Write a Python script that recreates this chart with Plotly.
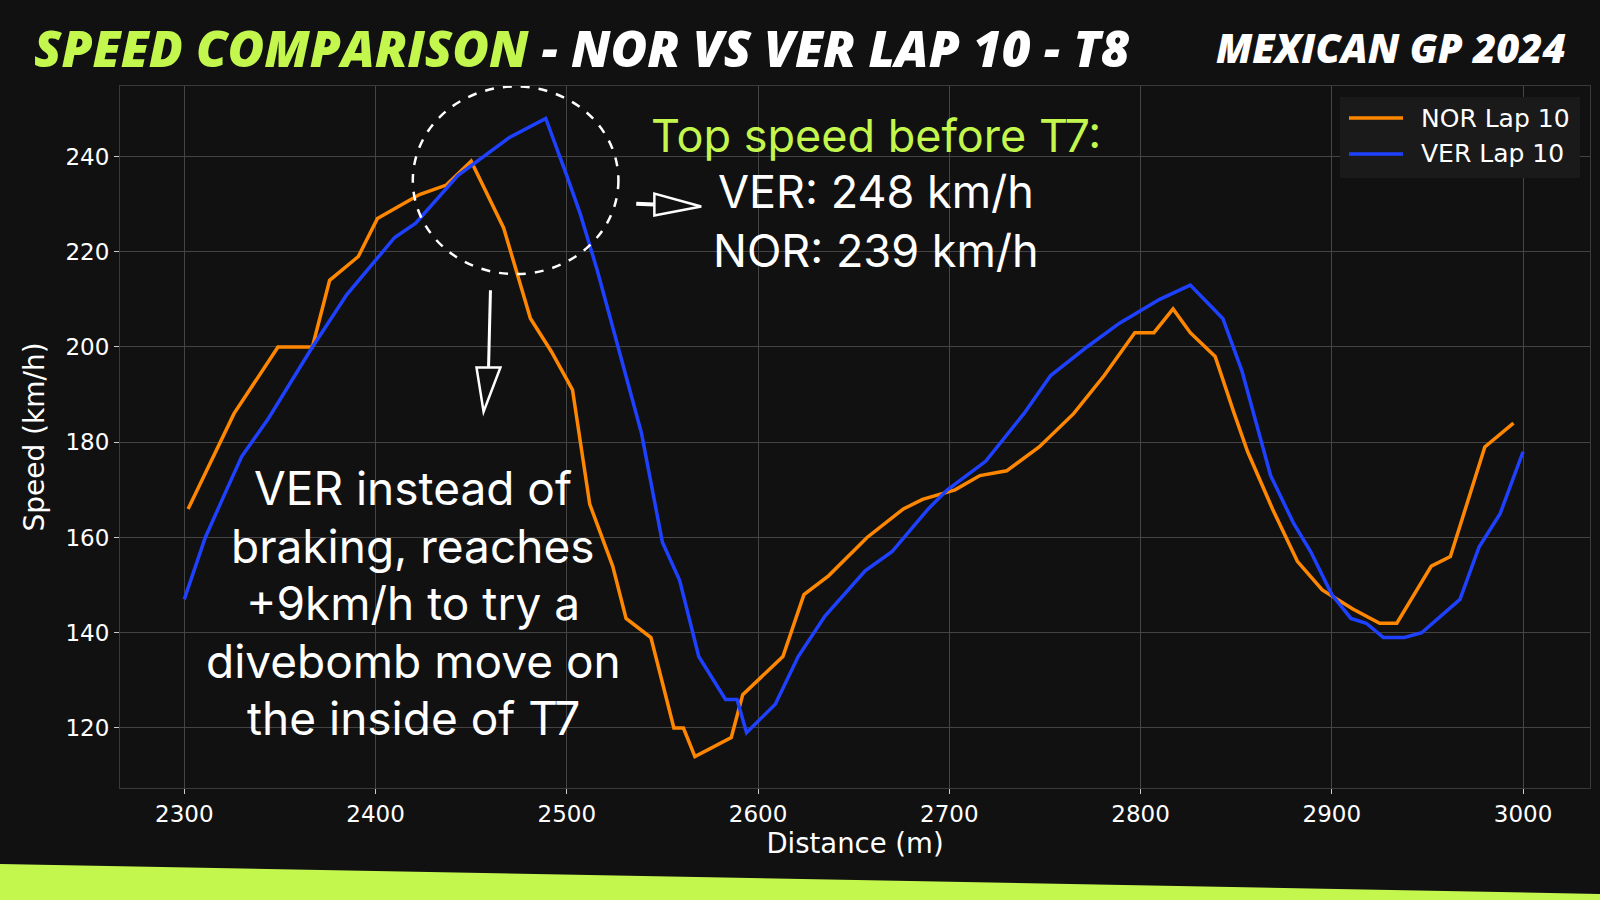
import plotly.graph_objects as go

# ---- data ----
nor_dist = [2302, 2326, 2349, 2367, 2376, 2391, 2401, 2423, 2437, 2450, 2467, 2481, 2492, 2503,
            2512, 2524, 2531, 2544, 2556, 2561, 2567, 2586, 2592, 2613, 2624, 2637, 2657, 2676,
            2686, 2703, 2716, 2730, 2747, 2765, 2781, 2797, 2807, 2817, 2826, 2839, 2849, 2856,
            2869, 2882, 2895, 2911, 2925, 2934, 2952, 2962, 2980, 2995]
nor_speed = [166, 186, 200, 200, 214, 219, 227, 232, 234, 239, 225, 206, 199, 191,
             167, 154, 143, 139, 120, 120, 114, 118, 127, 135, 148, 152, 160, 166,
             168, 170, 173, 174, 179, 186, 194, 203, 203, 208, 203, 198, 186, 178,
             166, 155, 149, 145, 142, 142, 154, 156, 179, 184]

ver_dist = [2300, 2311, 2321, 2330, 2344, 2367, 2385, 2410, 2421, 2443, 2470, 2489, 2500, 2507,
            2516, 2539, 2550, 2559, 2569, 2583, 2589, 2594, 2609, 2621, 2635, 2656, 2670, 2689,
            2699, 2719, 2739, 2753, 2772, 2789, 2810, 2826, 2843, 2853, 2868, 2880, 2889, 2900,
            2910, 2918, 2927, 2938, 2947, 2967, 2977, 2988, 3000]
ver_speed = [147, 160, 169, 177, 185, 200, 211, 223, 226, 236, 244, 248, 236, 228,
             216, 182, 159, 151, 135, 126, 126, 119, 125, 135, 143.5, 153, 157, 166,
             170, 176, 186, 194, 200, 205, 210, 213, 206, 195, 173, 163, 157, 148,
             143, 142, 139, 139, 140, 147, 158, 165, 178]

x_ticks = [2300, 2400, 2500, 2600, 2700, 2800, 2900, 3000]
y_ticks = [120, 140, 160, 180, 200, 220, 240]

series_names = ["NOR Lap 10", "VER Lap 10"]
title_lime = "SPEED COMPARISON"
title_white = " - NOR VS VER LAP 10 - T8"
subtitle = "MEXICAN GP 2024"
top_lines = ["Top speed before T7:", "VER: 248 km/h", "NOR: 239 km/h"]
left_lines = ["VER instead of", "braking, reaches", "+9km/h to try a",
              "divebomb move on", "the inside of T7"]

BG = "#111111"
LIME = "#c4f74e"
ORANGE = "#ff8700"
BLUE = "#1e41ff"
GRID = "#444444"
colors = [ORANGE, BLUE]

fig = go.Figure()
fig.add_trace(go.Scatter(x=nor_dist, y=nor_speed, mode="lines", name=series_names[0],
                         line=dict(color=ORANGE, width=3.5), showlegend=False))
fig.add_trace(go.Scatter(x=ver_dist, y=ver_speed, mode="lines", name=series_names[1],
                         line=dict(color=BLUE, width=3.5), showlegend=False))

L, R, T, B = 120, 10, 86, 112
W, H = 1600, 900
pw, ph = W - L - R, H - T - B

def px_x(X):
    return (X - L) / pw

def px_y(Y):
    return (H - B - Y) / ph

# bottom lime stripe
fig.add_shape(type="path", xref="paper", yref="paper",
              path=f"M {px_x(-5)} {px_y(864)} L {px_x(1605)} {px_y(894)} L {px_x(1605)} {px_y(905)} L {px_x(-5)} {px_y(905)} Z",
              fillcolor=LIME, line=dict(width=0), layer="above")

# legend (matplotlib-style box)
fig.add_shape(type="rect", xref="paper", yref="paper",
              x0=px_x(1340), x1=px_x(1580), y0=px_y(178), y1=px_y(97),
              fillcolor="#1a1a1a", line=dict(width=0), layer="above")
for i, (name, col) in enumerate(zip(series_names, colors)):
    yy = 118 + i * 36
    fig.add_shape(type="line", xref="paper", yref="paper",
                  x0=px_x(1349), x1=px_x(1403), y0=px_y(yy), y1=px_y(yy),
                  line=dict(color=col, width=3.5), layer="above")
    fig.add_annotation(xref="paper", yref="paper", x=px_x(1419), y=px_y(yy), text=name,
                       showarrow=False, xanchor="left", yanchor="middle",
                       font=dict(family="DejaVu Sans", size=25, color="white"))

# dashed circle
fig.add_shape(type="circle", xref="x", yref="y", x0=2419.5, x1=2527, y0=215.3, y1=254.7,
              line=dict(color="white", width=2.5, dash="dash"))

# down arrow
fig.add_shape(type="line", xref="x", yref="y", x0=2460.1, y0=211.9, x1=2459.1, y1=195.7,
              line=dict(color="white", width=3))
fig.add_shape(type="path", xref="x", yref="y",
              path="M 2452.8 195.7 L 2465.3 195.7 L 2456.5 186.4 Z",
              line=dict(color="white", width=2.5), fillcolor=BG)
# right arrow
fig.add_shape(type="line", xref="x", yref="y", x0=2536.3, y0=230.1, x1=2545.8, y1=229.9,
              line=dict(color="white", width=4))
fig.add_shape(type="path", xref="x", yref="y",
              path="M 2545.8 232.2 L 2545.8 227.6 L 2570.3 229.5 Z",
              line=dict(color="white", width=2.5), fillcolor=BG)

TXT_FONT = "Inter"
# top-speed annotation
top_y = [135, 192, 250]
top_colors = [LIME, "white", "white"]
for line, yy, col in zip(top_lines, top_y, top_colors):
    fig.add_annotation(xref="paper", yref="paper", x=px_x(876), y=px_y(yy), text=line,
                       showarrow=False, xanchor="center", yanchor="middle",
                       font=dict(family=TXT_FONT, size=45, color=col))
# left annotation
left_y = [488, 546, 603, 661, 718]
for line, yy in zip(left_lines, left_y):
    fig.add_annotation(xref="paper", yref="paper", x=px_x(413), y=px_y(yy), text=line,
                       showarrow=False, xanchor="center", yanchor="middle",
                       font=dict(family=TXT_FONT, size=46, color="white"))

# titles
fig.add_annotation(xref="paper", yref="paper", x=px_x(32), y=px_y(48), xanchor="left", yanchor="middle",
                   text=f"<span style='color:{LIME}'>{title_lime}</span>{title_white}",
                   showarrow=False,
                   font=dict(family="Open Sans", size=50, color="white", weight=800, style="italic"))
fig.add_annotation(xref="paper", yref="paper", x=px_x(1568), y=px_y(48), xanchor="right", yanchor="middle",
                   text=subtitle, showarrow=False,
                   font=dict(family="Open Sans", size=40, color="white", weight=800, style="italic"))

axis_common = dict(showgrid=True, gridcolor=GRID, gridwidth=1, zeroline=False,
                   showline=True, linecolor="#3a3a3a", linewidth=1, mirror=True,
                   ticks="outside", ticklen=5, tickcolor="#cccccc",
                   tickfont=dict(family="DejaVu Sans", size=23, color="white"))

fig.update_layout(
    width=W, height=H,
    margin=dict(l=L, r=R, t=T, b=B),
    paper_bgcolor=BG, plot_bgcolor=BG,
    showlegend=False,
    xaxis=dict(range=[2266.4, 3035.0], tickvals=x_ticks,
               title=dict(text="Distance (m)", font=dict(family="DejaVu Sans", size=27.5, color="white"), standoff=4),
               **axis_common),
    yaxis=dict(range=[107.4, 254.8], tickvals=y_ticks,
               title=dict(text="Speed (km/h)", font=dict(family="DejaVu Sans", size=28, color="white"), standoff=12),
               **axis_common),
)

fig.write_html("out.html", config={"displayModeBar": False})

# remove the default page margin so the 1600x900 figure fills the window exactly
with open("out.html", "r", encoding="utf-8") as f:
    html = f.read()
html = html.replace("<head>", "<head><style>html,body{margin:0;padding:0;background:#111111;overflow:hidden;}</style>", 1)
with open("out.html", "w", encoding="utf-8") as f:
    f.write(html)
